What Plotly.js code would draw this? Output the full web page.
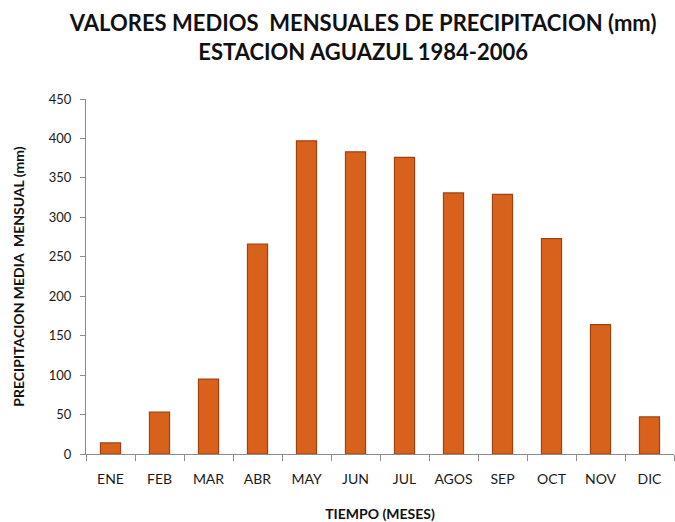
<!DOCTYPE html>
<html><head><meta charset="utf-8">
<script src="https://cdn.plot.ly/plotly-3.0.1.min.js"></script>
<style>html,body{margin:0;padding:0;background:#fff}#chart{width:675px;height:522px}</style>
</head><body><div id="chart"></div>
<script>
const months = ["ENE","FEB","MAR","ABR","MAY","JUN","JUL","AGOS","SEP","OCT","NOV","DIC"];
const precip = [14, 53, 95, 266, 397, 383, 376, 331, 329, 273, 164, 47];

const fontFam = "Lato, 'Open Sans', sans-serif";
const trace = {
  type: "bar",
  x: months,
  y: precip,
  marker: {color: "#D8621C", line: {color: "#9E4310", width: 1.2}},
  width: 0.41,
  hoverinfo: "x+y"
};
const layout = {
  width: 675, height: 522,
  margin: {l: 86, r: 1, t: 99, b: 68},
  paper_bgcolor: "#fff", plot_bgcolor: "#fff",
  showlegend: false,
  title: {
    text: "<b>VALORES MEDIOS  MENSUALES DE PRECIPITACION (mm)<br>ESTACION AGUAZUL 1984-2006</b>",
    font: {family: fontFam, size: 22, color: "#111"},
    x: 0.538, xanchor: "center", y: 0.94, yanchor: "top"
  },
  xaxis: {
    type: "category",
    showline: true, linecolor: "#8c8c8c", linewidth: 1,
    ticks: "outside", tickson: "boundaries", ticklen: 6, tickcolor: "#8c8c8c",
    ticklabelstandoff: 12,
    tickfont: {family: fontFam, size: 14, color: "#1a1a1a"},
    showgrid: false, zeroline: false,
    title: {text: "<b>TIEMPO (MESES)</b>", font: {family: fontFam, size: 14, color: "#111"}, standoff: 24}
  },
  yaxis: {
    range: [0, 450], dtick: 50,
    showline: true, linecolor: "#8c8c8c", linewidth: 1,
    ticks: "outside", ticklen: 5, tickcolor: "#8c8c8c",
    ticklabelstandoff: 6,
    tickfont: {family: fontFam, size: 13, color: "#1a1a1a"},
    showgrid: false, zeroline: false,
    title: {text: "<b>PRECIPITACION MEDIA  MENSUAL (mm)</b>", font: {family: fontFam, size: 14, color: "#111"}, standoff: 20}
  }
};
Plotly.newPlot("chart", [trace], layout, {displayModeBar: false, staticPlot: true});
</script></body></html>
